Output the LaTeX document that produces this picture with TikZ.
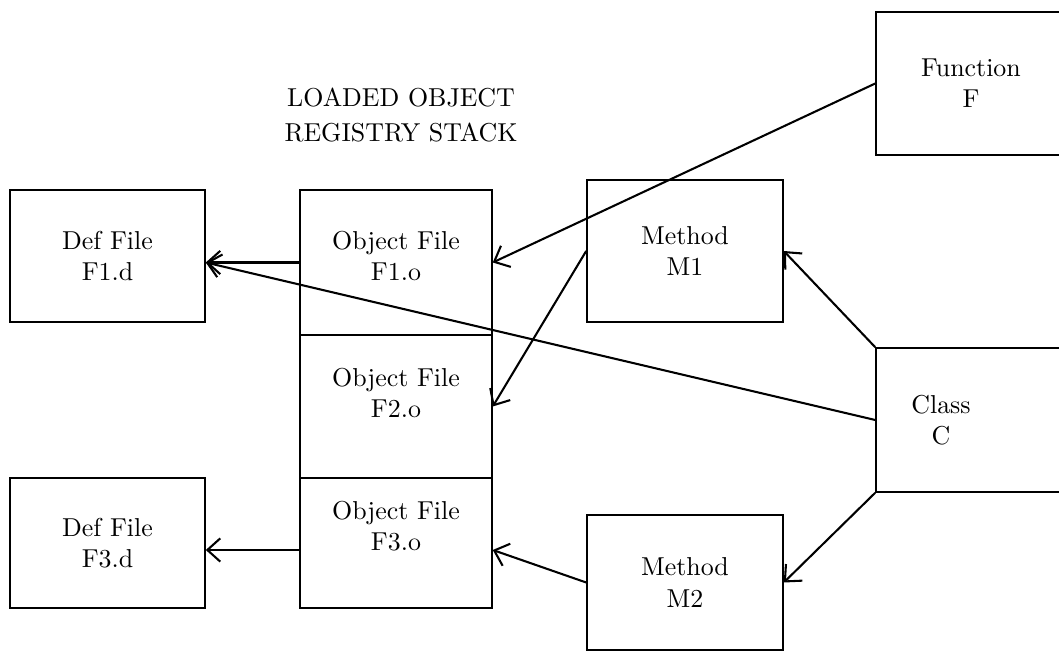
\documentclass[tikz,border=0pt]{standalone}
\usepackage{tikz}
\usetikzlibrary{arrows,arrows.meta,positioning}

\begin{document}
\begin{tikzpicture}[x=0.1357cm,y=-0.1357cm,>={Straight Barb[length=5pt,width=9pt]}]
        \useasboundingbox (0,0) rectangle (105.9,65.6);
        \node[align=center] at (40.1,11.5) (title) {LOADED OBJECT\\[1.5pt]REGISTRY STACK};
        \node[rectangle, draw, semithick, align=center, minimum width=2.646cm, minimum height=1.791cm] at (10.75,25.6) (deff1) {Def File\\F1.d};
        \node[rectangle, draw, semithick, align=center, minimum width=2.646cm, minimum height=1.764cm] at (10.75,54.3) (deff3) {Def File\\F3.d};
        \node[rectangle, draw, semithick, align=center, text depth=5.4pt, minimum width=2.605cm, minimum height=1.968cm] at (39.6,26.25) (objf1) {Object File\\F1.o};
        \node[rectangle, draw, semithick, align=center, text depth=10.8pt, minimum width=2.605cm, minimum height=1.941cm] at (39.6,40.65) (objf2) {Object File\\F2.o};
        \node[rectangle, draw, semithick, align=center, text depth=13pt, minimum width=2.605cm, minimum height=1.764cm] at (39.6,54.3) (objf3) {Object File\\F3.o};
        \node[rectangle, draw, semithick, align=center, minimum width=2.660cm, minimum height=1.927cm] at (68.5,25.1) (meth1) {Method\\M1};
        \node[rectangle, draw, semithick, align=center, minimum width=2.660cm, minimum height=1.832cm] at (68.5,58.25) (meth2) {Method\\M2};
        \node[rectangle, draw, semithick, align=center, minimum width=2.578cm, minimum height=1.941cm] at (97.1,8.35) (func) {Function\\F};
        \node[rectangle, draw, semithick, minimum width=2.578cm, minimum height=1.954cm] at (97.1,42) (class) {};
        \node[align=center] at (94.1,42) (classtxt) {Class\\C};
        \coordinate (f3in) at ([yshift=-2.7pt]objf3.east);
        \coordinate (f3out) at ([yshift=-2.7pt]objf3.west);
        \draw[->,thick] (func.west) -- (objf1.east);
        \draw[->,thick] (objf1.west) -- (deff1.east |- objf1.west);
        \draw[->,thick] (class.west) -- (deff1.east |- objf1.west);
        \draw[->,thick] (meth1.west) -- (objf2.east);
        \draw[->,thick] (class.north west) -- (meth1.east);
        \draw[->,thick] (class.south west) -- (meth2.east);
        \draw[->,thick] (meth2.west) -- (f3in);
        \draw[->,thick] (f3out) -- (deff3.east |- f3out);
      \end{tikzpicture}
\end{document}
